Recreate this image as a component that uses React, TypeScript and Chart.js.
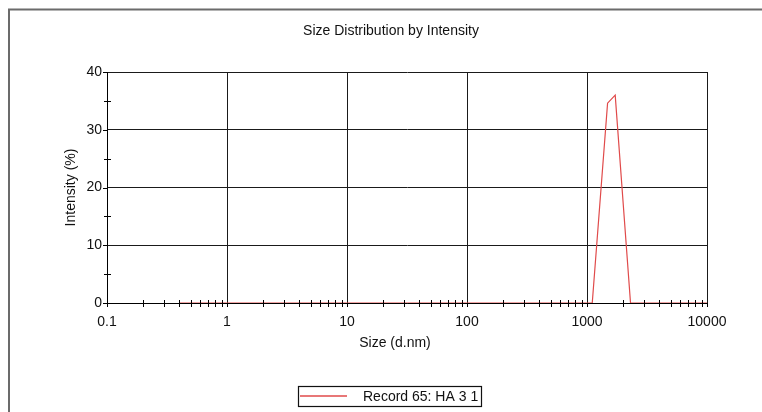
import { useEffect, useRef } from "react";
import { Chart, registerables } from "chart.js";

Chart.register(...registerables);

// ---- data ----
const sizes = [0.4, 1106, 1484, 1718, 2305, 10000];
const intensities = [0, 0, 34.6, 36.0, 0, 0];
const xTickValues = [0.1, 1, 10, 100, 1000, 10000];
const yMin = 0;
const yMax = 40;
const yStep = 10;
const yMinorTicks = [5, 15, 25, 35];
const minorMultipliers = [2, 3, 4, 5, 6, 7, 8, 9];
const chartTitle = "Size Distribution by Intensity";
const xAxisTitle = "Size (d.nm)";
const yAxisTitle = "Intensity (%)";
const seriesLabel = "Record 65: HA 3 1";

const FONT = "14px 'Liberation Sans', Arial, sans-serif";
const RED = "#e04a4a";

const decorPlugin = {
  id: "decor",
  beforeDraw(chart: any) {
    const ctx = chart.ctx;
    ctx.save();
    ctx.strokeStyle = "#6b6b6b";
    ctx.lineWidth = 2;
    ctx.beginPath();
    ctx.moveTo(9, 412);
    ctx.lineTo(9, 9.5);
    ctx.lineTo(762, 9.5);
    ctx.stroke();
    ctx.restore();
  },
  afterDraw(chart: any) {
    const ctx = chart.ctx;
    const xs = chart.scales.x;
    const ys = chart.scales.y;
    const area = chart.chartArea;
    ctx.save();
    ctx.strokeStyle = "#000";
    ctx.lineWidth = 1;
    // x minor ticks
    ctx.beginPath();
    for (let i = 0; i < xTickValues.length - 1; i++) {
      for (const m of minorMultipliers) {
        const px = Math.round(xs.getPixelForValue(xTickValues[i] * m)) + 0.5;
        ctx.moveTo(px, area.bottom - 3);
        ctx.lineTo(px, area.bottom + 4);
      }
    }
    // x major ticks (below axis)
    for (const v of xTickValues) {
      const px = Math.round(xs.getPixelForValue(v)) + 0.5;
      ctx.moveTo(px, area.bottom);
      ctx.lineTo(px, area.bottom + 4);
    }
    // y minor ticks
    for (const v of yMinorTicks) {
      const py = Math.round(ys.getPixelForValue(v)) + 0.5;
      ctx.moveTo(area.left - 3, py);
      ctx.lineTo(area.left + 4, py);
    }
    // y major ticks (left of axis)
    for (let v = yMin; v <= yMax; v += yStep) {
      const py = Math.round(ys.getPixelForValue(v)) + 0.5;
      ctx.moveTo(area.left - 4, py);
      ctx.lineTo(area.left, py);
    }
    ctx.stroke();

    // texts
    ctx.fillStyle = "#111";
    ctx.font = FONT;
    ctx.textAlign = "center";
    ctx.textBaseline = "middle";
    ctx.fillText(chartTitle, 391, 31);
    ctx.fillText(xAxisTitle, 395, 343);
    ctx.save();
    ctx.translate(71, (area.top + area.bottom) / 2);
    ctx.rotate(-Math.PI / 2);
    ctx.fillText(yAxisTitle, 0, 0);
    ctx.restore();

    // legend box
    ctx.strokeStyle = "#111";
    ctx.lineWidth = 1.2;
    ctx.strokeRect(298.5, 386.5, 183, 20);
    ctx.strokeStyle = RED;
    ctx.lineWidth = 1.3;
    ctx.beginPath();
    ctx.moveTo(300, 396);
    ctx.lineTo(347, 396);
    ctx.stroke();
    ctx.fillStyle = "#111";
    ctx.textAlign = "left";
    ctx.fillText(chart.data.datasets[0].label, 363, 397);
    ctx.restore();
  },
};

export default function App() {
  const ref = useRef<HTMLCanvasElement | null>(null);
  useEffect(() => {
    if (!ref.current) return;
    const chart = new Chart(ref.current, {
      type: "line",
      data: {
        datasets: [
          {
            label: seriesLabel,
            data: sizes.map((s, i) => ({ x: s, y: intensities[i] })),
            borderColor: RED,
            borderWidth: 1.2,
            pointRadius: 0,
            tension: 0,
            fill: false,
          },
        ],
      },
      options: {
        animation: false,
        responsive: false,
        devicePixelRatio: 1,
        layout: { padding: { left: 0, top: 72, right: 55, bottom: 79 } },
        plugins: {
          legend: { display: false },
          title: { display: false },
          tooltip: { enabled: false },
        },
        scales: {
          x: {
            type: "logarithmic",
            min: 0.1,
            max: 10000,
            afterBuildTicks: (scale: any) => {
              scale.ticks = xTickValues.map((v) => ({ value: v }));
            },
            afterFit: (scale: any) => {
              scale.height = 30;
            },
            ticks: {
              autoSkip: false,
              maxRotation: 0,
              padding: 11,
              color: "#111",
              font: { family: "'Liberation Sans', Arial, sans-serif", size: 14 },
              callback: (v: any) => String(v),
            },
            grid: { color: "#1a1a1a", lineWidth: 1, drawTicks: false },
            border: { color: "#000", width: 1 },
          },
          y: {
            type: "linear",
            min: yMin,
            max: yMax,
            afterFit: (scale: any) => {
              scale.width = 107;
            },
            ticks: {
              stepSize: yStep,
              padding: 5,
              color: "#111",
              font: { family: "'Liberation Sans', Arial, sans-serif", size: 14 },
            },
            grid: { color: "#1a1a1a", lineWidth: 1, drawTicks: false },
            border: { color: "#000", width: 1 },
          },
        },
      },
      plugins: [decorPlugin],
    } as any);
    return () => chart.destroy();
  }, []);
  return (
    <div style={{ position: "fixed", left: 0, top: 0, width: 762, height: 412, background: "#fff" }}>
      <canvas ref={ref} width={762} height={412} style={{ display: "block" }} />
    </div>
  );
}
